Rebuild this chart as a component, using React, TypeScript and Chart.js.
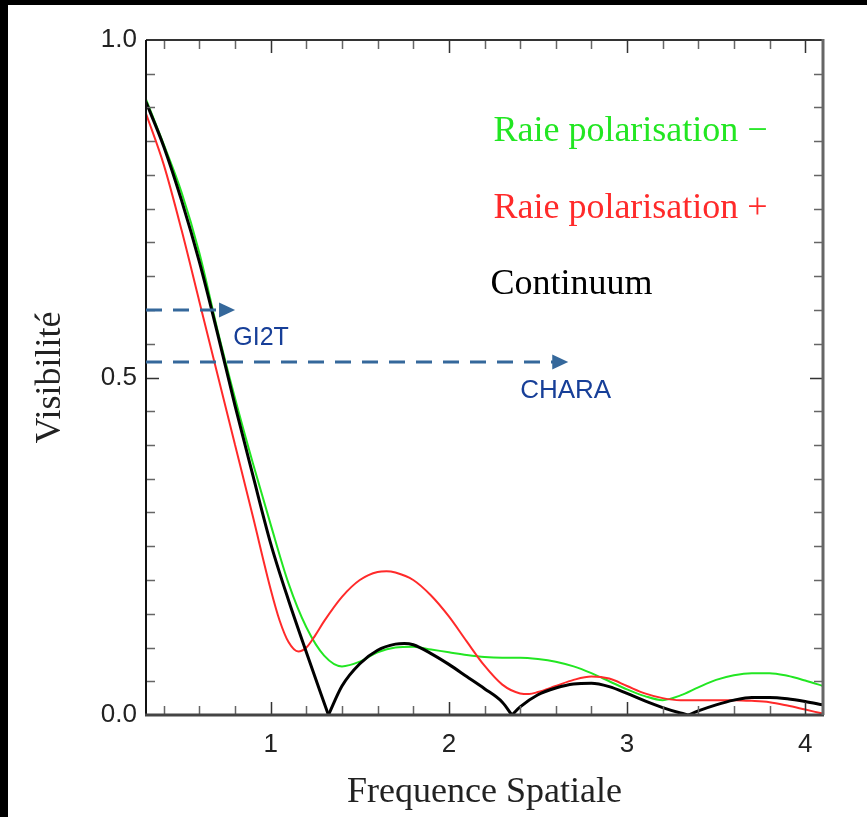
import React, { useEffect, useRef } from 'react';
import { Chart, registerables } from 'chart.js';

Chart.register(...registerables);

// ---------------- data ----------------
const raieMinusX = [0.3, 0.4, 0.5, 0.6, 0.7, 0.8, 0.9, 1.0, 1.1, 1.2, 1.3, 1.4, 1.5, 1.6, 1.7, 1.8, 1.9, 2.0, 2.1, 2.2, 2.3, 2.4, 2.5, 2.6, 2.7, 2.8, 2.9, 3.0, 3.1, 3.2, 3.3, 3.4, 3.5, 3.6, 3.7, 3.8, 3.9, 4.0, 4.1];
const raieMinusY = [0.912, 0.845, 0.774, 0.684, 0.572, 0.469, 0.373, 0.282, 0.195, 0.13, 0.088, 0.072, 0.079, 0.093, 0.1, 0.101, 0.097, 0.093, 0.089, 0.086, 0.085, 0.085, 0.083, 0.079, 0.072, 0.062, 0.05, 0.038, 0.028, 0.022, 0.029, 0.041, 0.052, 0.059, 0.062, 0.062, 0.058, 0.051, 0.043];

const raiePlusX = [0.3, 0.4, 0.5, 0.6, 0.7, 0.8, 0.9, 1.0, 1.05, 1.1, 1.155, 1.2, 1.25, 1.3, 1.4, 1.5, 1.6, 1.65, 1.7, 1.8, 1.9, 2.0, 2.1, 2.2, 2.3, 2.4, 2.45, 2.5, 2.6, 2.7, 2.8, 2.9, 3.0, 3.1, 3.2, 3.3, 3.4, 3.5, 3.6, 3.7, 3.8, 3.9, 4.0, 4.1];
const raiePlusY = [0.891, 0.815, 0.718, 0.612, 0.506, 0.4, 0.294, 0.186, 0.14, 0.108, 0.094, 0.1, 0.118, 0.139, 0.175, 0.2, 0.212, 0.213, 0.211, 0.2, 0.177, 0.146, 0.109, 0.073, 0.045, 0.032, 0.031, 0.034, 0.043, 0.052, 0.057, 0.054, 0.043, 0.032, 0.025, 0.022, 0.022, 0.022, 0.022, 0.021, 0.019, 0.014, 0.008, 0.002];

const continuumX = [0.3, 0.4, 0.5, 0.6, 0.7, 0.8, 0.9, 1.0, 1.1, 1.2, 1.324, 1.4, 1.5, 1.6, 1.7, 1.75, 1.8, 1.9, 2.0, 2.1, 2.2, 2.3, 2.354, 2.4, 2.5, 2.6, 2.7, 2.8, 2.9, 3.0, 3.1, 3.2, 3.3, 3.347, 3.4, 3.5, 3.6, 3.7, 3.8, 3.9, 4.0, 4.1];
const continuumY = [0.908, 0.842, 0.762, 0.671, 0.567, 0.458, 0.355, 0.254, 0.17, 0.093, 0, 0.043, 0.076, 0.096, 0.105, 0.106, 0.104, 0.091, 0.075, 0.057, 0.039, 0.019, 0, 0.012, 0.03, 0.04, 0.046, 0.047, 0.042, 0.032, 0.021, 0.011, 0.003, 0, 0.006, 0.015, 0.022, 0.026, 0.026, 0.024, 0.02, 0.015];

const xTickLabels = [1, 2, 3, 4];
const yTickLabels = [0, 0.5, 1.0];

const seriesLabels = ['Raie polarisation \u2212', 'Raie polarisation +', 'Continuum'];

const baselineNames = ['GI2T', 'CHARA'];
const baselineVis = [0.6, 0.523];
const baselineFreq = [0.8, 2.67];

const axisTitleX = 'Frequence Spatiale';
const axisTitleY = 'Visibilit\u00e9';

// ---------------- styles ----------------
const GREEN = '#22e622';
const RED = '#ff2a2a';
const BLACK = '#000000';
const ARROW = '#35689b';
const LABEL_BLUE = '#173f98';
const SERIF = '"Liberation Serif", "Times New Roman", serif';
const SANS = '"Liberation Sans", Arial, sans-serif';

const X_MIN = 0.3;
const X_MAX = 4.1;

function splitAtZeros(xs: number[], ys: number[]) {
  const segs: { x: number; y: number }[][] = [];
  let cur: { x: number; y: number }[] = [];
  xs.forEach((x, i) => {
    const p = { x, y: ys[i] };
    cur.push(p);
    if (ys[i] === 0 && i > 0 && i < xs.length - 1) {
      segs.push(cur);
      cur = [p];
    }
  });
  segs.push(cur);
  return segs;
}

const overlayPlugin = {
  id: 'overlay',
  afterDraw(chart: any) {
    const ctx: CanvasRenderingContext2D = chart.ctx;
    const { left, right, top, bottom } = chart.chartArea;
    const xs = chart.scales.x;
    const ys = chart.scales.y;
    ctx.save();

    // inward ticks on all four sides
    ctx.lineCap = 'butt';
    for (let i = 2; i <= 20; i++) {
      const v = i * 0.2;
      if (v > X_MAX + 1e-9) break;
      const major = Math.abs(v - Math.round(v)) < 1e-6;
      const px = Math.round(xs.getPixelForValue(v)) + 0.5;
      const len = major ? 13 : 9;
      ctx.strokeStyle = major ? '#333' : '#666';
      ctx.lineWidth = 1.5;
      ctx.beginPath();
      ctx.moveTo(px, bottom);
      ctx.lineTo(px, bottom - len);
      ctx.moveTo(px, top);
      ctx.lineTo(px, top + len);
      ctx.stroke();
    }
    for (let i = 1; i < 20; i++) {
      const v = i * 0.05;
      const major = i % 10 === 0;
      const py = Math.round(ys.getPixelForValue(v)) + 0.5;
      const len = major ? 13 : 9;
      ctx.strokeStyle = major ? '#333' : '#666';
      ctx.lineWidth = 1.5;
      ctx.beginPath();
      ctx.moveTo(left, py);
      ctx.lineTo(left + len, py);
      ctx.moveTo(right, py);
      ctx.lineTo(right - len, py);
      ctx.stroke();
    }

    // frame
    ctx.lineWidth = 2;
    ctx.strokeStyle = '#333';
    ctx.beginPath();
    ctx.moveTo(left, top);
    ctx.lineTo(right, top);
    ctx.stroke();
    ctx.strokeStyle = '#111';
    ctx.beginPath();
    ctx.moveTo(left, top);
    ctx.lineTo(left, bottom);
    ctx.stroke();
    ctx.lineWidth = 3;
    ctx.strokeStyle = '#444';
    ctx.beginPath();
    ctx.moveTo(left - 1, bottom);
    ctx.lineTo(right + 1, bottom);
    ctx.stroke();
    ctx.strokeStyle = '#666';
    ctx.beginPath();
    ctx.moveTo(right, top - 1);
    ctx.lineTo(right, bottom);
    ctx.stroke();

    // baseline arrows
    baselineVis.forEach((v, i) => {
      const py = ys.getPixelForValue(v);
      const tip = xs.getPixelForValue(baselineFreq[i]);
      const head = 16;
      ctx.strokeStyle = ARROW;
      ctx.fillStyle = ARROW;
      ctx.lineWidth = 3;
      ctx.setLineDash([16, 11]);
      ctx.beginPath();
      ctx.moveTo(left, py);
      ctx.lineTo(tip - head + 2, py);
      ctx.stroke();
      ctx.setLineDash([]);
      ctx.beginPath();
      ctx.moveTo(tip - head, py - 7.5);
      ctx.lineTo(tip, py);
      ctx.lineTo(tip - head, py + 7.5);
      ctx.closePath();
      ctx.fill();
    });

    // baseline names (placed below/right of arrow heads)
    ctx.fillStyle = LABEL_BLUE;
    ctx.font = `25px ${SANS}`;
    ctx.textAlign = 'left';
    ctx.textBaseline = 'alphabetic';
    ctx.fillText(baselineNames[0], xs.getPixelForValue(0.79), ys.getPixelForValue(0.548));
    ctx.font = `26px ${SANS}`;
    ctx.fillText(baselineNames[1], xs.getPixelForValue(2.40), ys.getPixelForValue(0.470));

    // in-plot legend text
    ctx.font = `36px ${SERIF}`;
    const legendColors = [GREEN, RED, BLACK];
    const legendX = [2.25, 2.25, 2.233];
    const legendY = [0.85, 0.736, 0.624];
    seriesLabels.forEach((t, i) => {
      ctx.fillStyle = legendColors[i];
      ctx.fillText(t, xs.getPixelForValue(legendX[i]), ys.getPixelForValue(legendY[i]));
    });

    // axis titles
    ctx.fillStyle = '#222';
    ctx.textAlign = 'center';
    ctx.fillText(axisTitleX, (left + right) / 2, 797);
    ctx.save();
    ctx.translate(52, (top + bottom) / 2);
    ctx.rotate(-Math.PI / 2);
    ctx.fillText(axisTitleY, 0, 0);
    ctx.restore();

    ctx.restore();
  },
};

export default function App() {
  const ref = useRef<HTMLCanvasElement | null>(null);

  useEffect(() => {
    if (!ref.current) return;
    const lobes = splitAtZeros(continuumX, continuumY);
    const common = {
      pointRadius: 0,
      cubicInterpolationMode: 'monotone',
      fill: false,
    };
    const datasets: any[] = lobes.map((seg, i) => ({
      ...common,
      label: i === 0 ? seriesLabels[2] : `${seriesLabels[2]} ${i + 1}`,
      data: seg,
      borderColor: BLACK,
      borderWidth: 3,
    }));
    datasets.push({
      ...common,
      label: seriesLabels[1],
      data: raiePlusX.map((x, i) => ({ x, y: raiePlusY[i] })),
      borderColor: RED,
      borderWidth: 2,
    });
    datasets.push({
      ...common,
      label: seriesLabels[0],
      data: raieMinusX.map((x, i) => ({ x, y: raieMinusY[i] })),
      borderColor: GREEN,
      borderWidth: 2,
    });

    const chart = new Chart(ref.current, {
      type: 'line',
      data: { datasets },
      options: {
        animation: false,
        responsive: false,
        maintainAspectRatio: false,
        parsing: false as any,
        layout: { padding: { left: 0, top: 35, right: 44, bottom: 0 } },
        plugins: {
          legend: { display: false },
          tooltip: { enabled: false },
        },
        scales: {
          x: {
            type: 'linear',
            min: X_MIN,
            max: X_MAX,
            grid: { display: false, drawTicks: false },
            border: { display: false },
            afterBuildTicks: (s: any) => {
              s.ticks = xTickLabels.map((v) => ({ value: v }));
            },
            afterFit: (s: any) => {
              s.height = 102;
            },
            ticks: {
              font: { family: 'Liberation Sans', size: 26 },
              color: '#222',
              padding: 14,
              maxRotation: 0,
              autoSkip: false,
              callback: (v: any) => String(v),
            },
          },
          y: {
            type: 'linear',
            min: 0,
            max: 1,
            grid: { display: false, drawTicks: false },
            border: { display: false },
            afterBuildTicks: (s: any) => {
              s.ticks = yTickLabels.map((v) => ({ value: v }));
            },
            afterFit: (s: any) => {
              s.width = 138;
            },
            ticks: {
              font: { family: 'Liberation Sans', size: 26 },
              color: '#222',
              padding: 9,
              autoSkip: false,
              callback: (v: any) => Number(v).toFixed(1),
            },
          },
        },
      },
      plugins: [overlayPlugin],
    });
    return () => chart.destroy();
  }, []);

  return (
    <div style={{ position: 'fixed', left: 0, top: 0, width: 867, height: 817, background: '#000' }}>
      <canvas
        ref={ref}
        width={859}
        height={812}
        style={{ position: 'absolute', left: 8, top: 5, width: 859, height: 812, background: '#fff' }}
      />
    </div>
  );
}
